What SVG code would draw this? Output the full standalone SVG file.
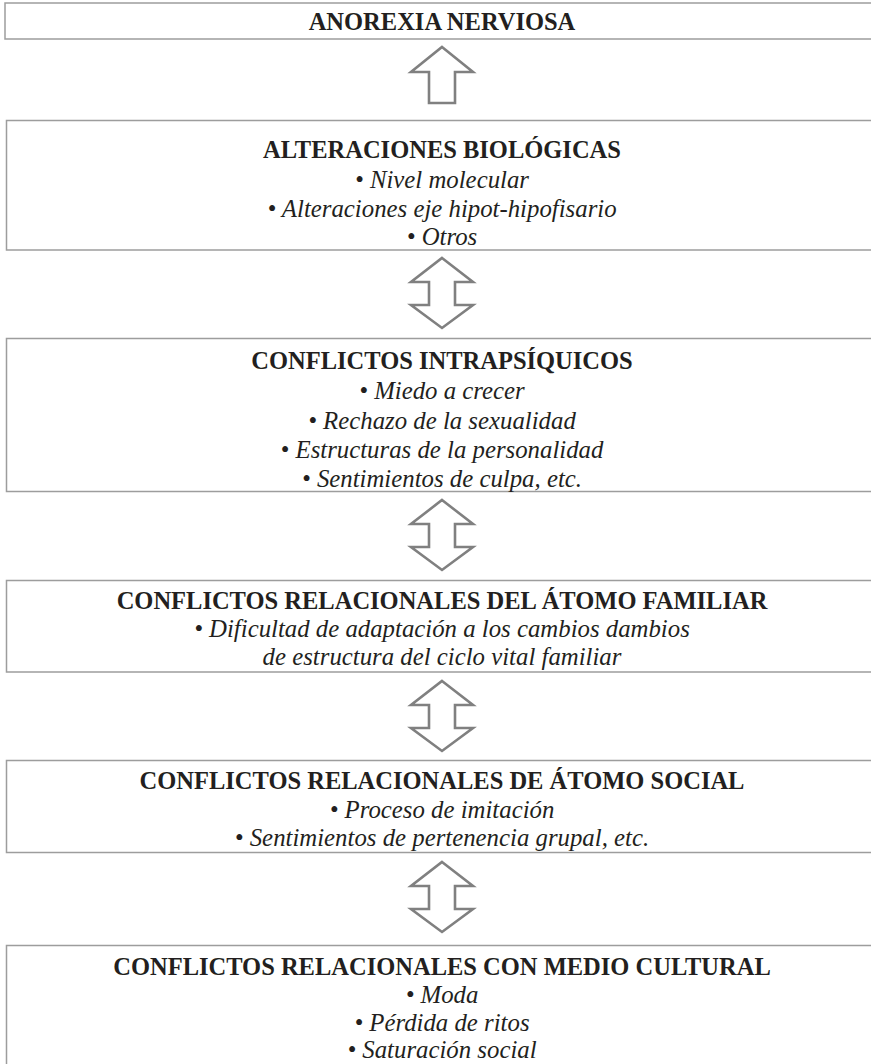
<svg xmlns="http://www.w3.org/2000/svg" width="871" height="1064" viewBox="0 0 871 1064">
<style>
.box{fill:#fff;stroke:#9d9d9d;stroke-width:1.5}
.arr{fill:#fff;stroke:#808080;stroke-width:2.6;stroke-linejoin:miter}
.t{font-family:"Liberation Serif","Times New Roman",serif;font-weight:bold;font-size:24.5px;fill:#231f20;text-anchor:middle}
.i{font-family:"Liberation Serif","Times New Roman",serif;font-style:italic;font-size:24.8px;fill:#231f20;text-anchor:middle}
</style>
<defs>
<path id="up" d="M0,-28 L31,-3 L13,-3 L13,28 L-13,28 L-13,-3 L-31,-3 Z"/>
<path id="dbl" d="M0,-35 L31,-11 L13,-11 L13,12 L31,12 L0,35 L-31,12 L-13,12 L-13,-11 L-31,-11 Z"/>
</defs>
<rect width="871" height="1064" fill="#fff"/>
<g id="connectors">
<use href="#up" class="arr" x="442" y="75"/>
<use href="#dbl" class="arr" x="442" y="293"/>
<use href="#dbl" class="arr" x="442" y="535"/>
<use href="#dbl" class="arr" x="442" y="716"/>
<use href="#dbl" class="arr" x="442" y="897"/>
</g>
<g id="n1">
<rect class="box" x="5" y="3" width="880" height="36"/>
<text class="t" x="442" y="30">ANOREXIA NERVIOSA</text>
</g>
<g id="n2">
<rect class="box" x="6.5" y="120.5" width="880" height="129.5"/>
<text class="t" x="442" y="158">ALTERACIONES BIOLÓGICAS</text>
<text class="i" x="442" y="188">• Nivel molecular</text>
<text class="i" x="442" y="216.5">• Alteraciones eje hipot-hipofisario</text>
<text class="i" x="442" y="244.5">• Otros</text>
</g>
<g id="n3">
<rect class="box" x="6.5" y="338.5" width="880" height="153"/>
<text class="t" x="442" y="369">CONFLICTOS INTRAPSÍQUICOS</text>
<text class="i" x="442" y="399">• Miedo a crecer</text>
<text class="i" x="442" y="429">• Rechazo de la sexualidad</text>
<text class="i" x="442" y="458">• Estructuras de la personalidad</text>
<text class="i" x="442" y="487">• Sentimientos de culpa, etc.</text>
</g>
<g id="n4">
<rect class="box" x="6.5" y="580.5" width="880" height="91.5"/>
<text class="t" x="442" y="609">CONFLICTOS RELACIONALES DEL ÁTOMO FAMILIAR</text>
<text class="i" x="442" y="637">• Dificultad de adaptación a los cambios dambios</text>
<text class="i" x="442" y="664.5">de estructura del ciclo vital familiar</text>
</g>
<g id="n5">
<rect class="box" x="6.5" y="760.5" width="880" height="92"/>
<text class="t" x="442" y="789">CONFLICTOS RELACIONALES DE ÁTOMO SOCIAL</text>
<text class="i" x="442" y="817.5">• Proceso de imitación</text>
<text class="i" x="442" y="846">• Sentimientos de pertenencia grupal, etc.</text>
</g>
<g id="n6">
<rect class="box" x="6.5" y="945.5" width="880" height="130"/>
<text class="t" x="442" y="975">CONFLICTOS RELACIONALES CON MEDIO CULTURAL</text>
<text class="i" x="442" y="1003">• Moda</text>
<text class="i" x="442" y="1030.5">• Pérdida de ritos</text>
<text class="i" x="442" y="1058">• Saturación social</text>
</g>
</svg>
